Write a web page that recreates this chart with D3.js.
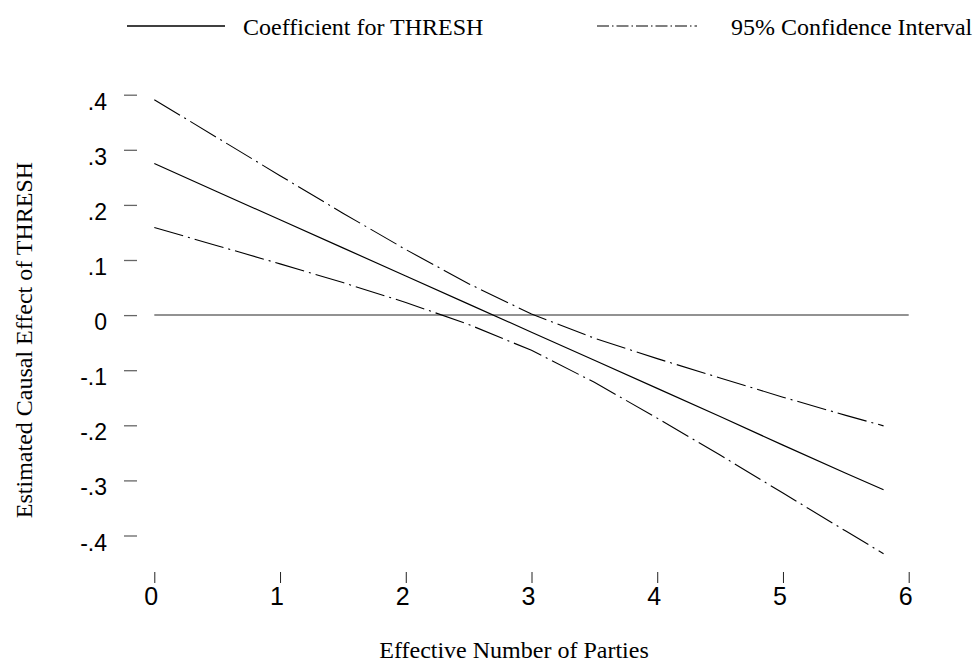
<!DOCTYPE html>
<meta charset="utf-8">
<html>
<head>
<style>
body {
  margin: 0;
  background: #fff;
}
.serif {
  font-family: "Liberation Serif", "Times New Roman", Times, serif;
}
.axis text {
  font-family: "Liberation Sans", Arial, Helvetica, sans-serif;
  fill: #000;
}
</style>
</head>
<body>
<div id="my_dataviz"></div>

<script src="https://d3js.org/d3.v7.min.js"></script>
<script>

// values
var xVals = [0, 0.5, 1, 1.5, 2, 2.5, 3, 3.5, 4, 4.5, 5, 5.5, 5.8];
var coef  = [0.275, 0.224, 0.173, 0.122, 0.071, 0.020, -0.031, -0.082, -0.133, -0.184, -0.236, -0.287, -0.317];
var upper = [0.391, 0.322, 0.253, 0.185, 0.119, 0.057, 0.002, -0.042, -0.079, -0.114, -0.149, -0.182, -0.201];
var lower = [0.159, 0.126, 0.093, 0.059, 0.023, -0.017, -0.064, -0.122, -0.187, -0.254, -0.323, -0.392, -0.433];

var xTicks = [0, 1, 2, 3, 4, 5, 6];
var yTicks = [0.4, 0.3, 0.2, 0.1, 0, -0.1, -0.2, -0.3, -0.4];
var yTickLabels = [".4", ".3", ".2", ".1", "0", "-.1", "-.2", "-.3", "-.4"];

var legendLabels = ["Coefficient for THRESH", "95% Confidence Interval"];

var width = 976, height = 665;

var svg = d3.select("#my_dataviz")
  .append("svg")
    .attr("width", width)
    .attr("height", height);

var x = d3.scaleLinear()
  .domain([0, 6])
  .range([154.3, 908.7]);

var y = d3.scaleLinear()
  .domain([-0.4, 0.4])
  .range([535.5, 94.7]);

// y axis
var yAxis = svg.append("g")
  .attr("class", "axis")
  .attr("transform", "translate(137,0)")
  .call(d3.axisLeft(y)
    .tickValues(yTicks)
    .tickSize(13)
    .tickPadding(17)
    .tickFormat(function(d, i) { return yTickLabels[i]; }));
yAxis.select(".domain").remove();
yAxis.selectAll("line").attr("stroke", "#666").attr("stroke-width", 1.3);
yAxis.selectAll("text")
  .attr("dy", "0.63em")
  .style("font-size", "23px");

// x axis
var xAxis = svg.append("g")
  .attr("class", "axis")
  .attr("transform", "translate(0,572)")
  .call(d3.axisBottom(x)
    .tickValues(xTicks)
    .tickSize(11)
    .tickPadding(4)
    .tickFormat(d3.format("d")));
xAxis.select(".domain").remove();
xAxis.selectAll("line").attr("stroke", "#222");
xAxis.selectAll("text")
  .attr("dx", -3.5)
  .style("font-size", "25px");

// zero reference line
svg.append("line")
  .attr("x1", x(0))
  .attr("x2", x(6))
  .attr("y1", y(0))
  .attr("y2", y(0))
  .attr("stroke", "#6e6e6e")
  .attr("stroke-width", 1.5);

var dashDot = "30,5,2,5";

function makeLine(vals) {
  return d3.line()
    .x(function(d, i) { return x(xVals[i]); })
    .y(function(d) { return y(d); })(vals);
}

svg.append("path")
  .attr("d", makeLine(upper))
  .attr("fill", "none")
  .attr("stroke", "#000")
  .attr("stroke-width", 1.1)
  .attr("stroke-dasharray", dashDot);

svg.append("path")
  .attr("d", makeLine(lower))
  .attr("fill", "none")
  .attr("stroke", "#000")
  .attr("stroke-width", 1.1)
  .attr("stroke-dasharray", dashDot);

svg.append("path")
  .attr("d", makeLine(coef))
  .attr("fill", "none")
  .attr("stroke", "#000")
  .attr("stroke-width", 1.2);

// axis titles
svg.append("text")
  .attr("class", "serif")
  .attr("x", 514)
  .attr("y", 658)
  .attr("text-anchor", "middle")
  .style("font-size", "24px")
  .text("Effective Number of Parties");

svg.append("text")
  .attr("class", "serif")
  .attr("transform", "translate(32,340) rotate(-90)")
  .attr("text-anchor", "middle")
  .style("font-size", "24px")
  .text("Estimated Causal Effect of THRESH");

// legend
svg.append("line")
  .attr("x1", 127).attr("x2", 225)
  .attr("y1", 26).attr("y2", 26)
  .attr("stroke", "#000")
  .attr("stroke-width", 1.3);

svg.append("text")
  .attr("class", "serif")
  .attr("x", 243)
  .attr("y", 35)
  .style("font-size", "24px")
  .text(legendLabels[0]);

svg.append("line")
  .attr("x1", 597).attr("x2", 697)
  .attr("y1", 26).attr("y2", 26)
  .attr("stroke", "#000")
  .attr("stroke-width", 1.1)
  .attr("stroke-dasharray", "12,3,1.5,3");

svg.append("text")
  .attr("class", "serif")
  .attr("x", 731)
  .attr("y", 35)
  .style("font-size", "24px")
  .text(legendLabels[1]);

</script>
</body>
</html>
